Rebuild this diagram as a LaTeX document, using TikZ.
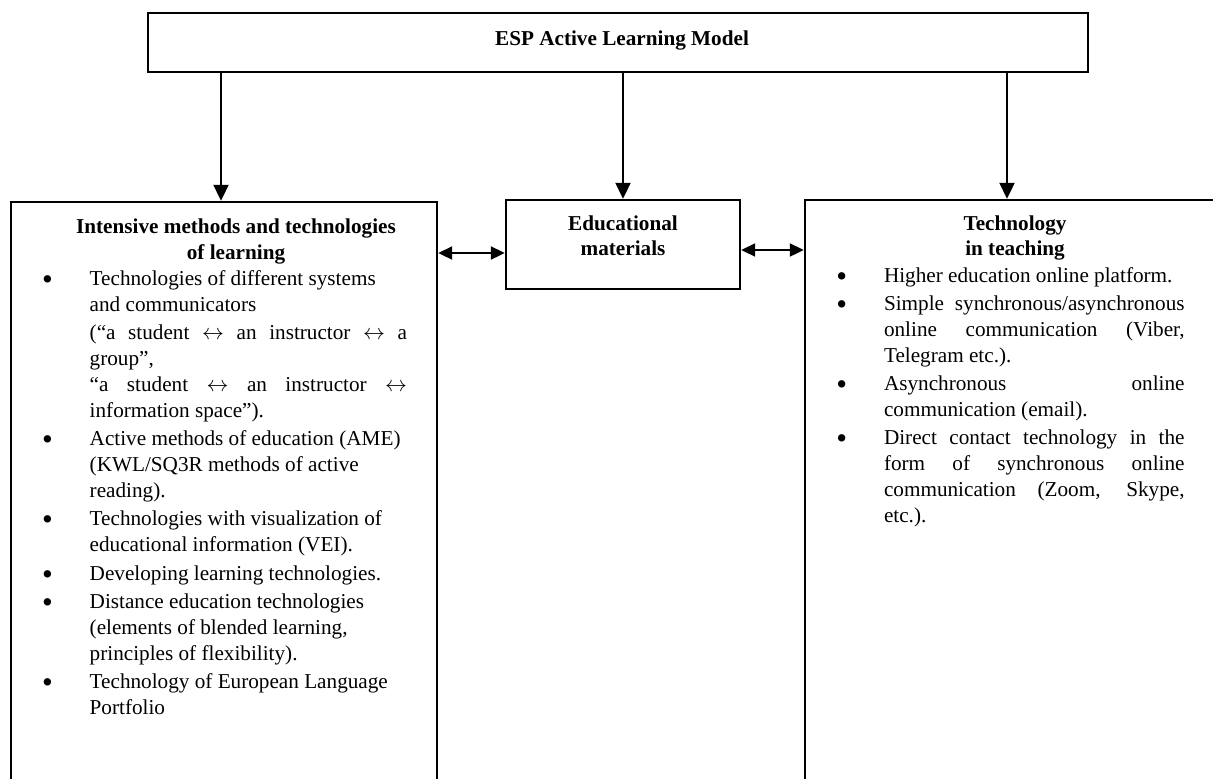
\documentclass[tikz,border=0pt]{standalone}
\usepackage{fontspec}
\usepackage{graphicx}
\setmainfont{Liberation Serif}
\usetikzlibrary{arrows.meta}
\newlength\lw \setlength\lw{158.7pt}
\newlength\rw \setlength\rw{150.3pt}
\newcommand\bul{\makebox[23.8pt][l]{\raisebox{-2.4pt}{\scalebox{1.45}{\textbullet}}}}
\newcommand\lra{$\leftrightarrow$}
\newcommand\Ll[1]{\makebox[\lw][l]{#1}}
\newcommand\Ls[1]{\makebox[\lw][s]{#1}}
\newcommand\Rl[1]{\makebox[\rw][l]{#1}}
\newcommand\Rs[1]{\makebox[\rw][s]{#1}}
\tikzset{
  box/.style={draw, line width=1.2pt, inner sep=0pt},
  txt/.style={inner sep=0pt, font=\fontsize{10.6}{13}\selectfont},
  ttl/.style={inner sep=0pt, align=center, font=\fontsize{10.6}{12.6}\selectfont\bfseries},
  varr/.style={line width=1pt, -{Triangle[length=8pt,width=7.5pt]}},
  harr/.style={line width=1pt, {Triangle[length=7pt,width=6.5pt]}-{Triangle[length=7pt,width=6.5pt]}}
}
\begin{document}
\begin{tikzpicture}[x=0.5pt,y=-0.5pt]
\useasboundingbox (0,0) rectangle (1213,778);
\clip (0,0) rectangle (1213,778);
% boxes
\node[box, minimum width=470pt, minimum height=29.5pt] (top) at (618,42.5) {};
\node[box, minimum width=213pt, minimum height=299pt] (lbox) at (224,501) {};
\node[box, minimum width=117pt, minimum height=44.5pt] (mbox) at (623,244.5) {};
\node[box, minimum width=212.5pt, minimum height=300pt] (rbox) at (1017.5,500) {};
% titles (base anchor = baseline of the last line)
\node[ttl, anchor=base] (toptitle) at (622,45) {ESP Active Learning Model};
\node[ttl, anchor=base] (ltitle) at (236,259) {Intensive methods and technologies\\of learning};
\node[ttl, anchor=base] (mtitle) at (623,255.7) {Educational\\materials};
\node[ttl, anchor=base] (rtitle) at (1015,255.7) {Technology\\in teaching};
% left list
\node[txt, anchor=base west] (llist) at (41.7,285) {%
\begin{tabular}[t]{@{}l@{}l@{}}
\bul & \Ll{Technologies of different systems}\\
     & \Ll{and communicators}\\[1pt]
     & \Ls{(“a student \lra{} an instructor \lra{} a}\\
     & \Ll{group”,}\\
     & \Ls{“a student \lra{} an instructor \lra}\\
     & \Ll{information space”).}\\[1pt]
\bul & \Ll{Active methods of education (AME)}\\
     & \Ll{(KWL/SQ3R methods of active}\\
     & \Ll{reading).}\\[1pt]
\bul & \Ll{Technologies with visualization of}\\
     & \Ll{educational information (VEI).}\\[1.5pt]
\bul & \Ll{Developing learning technologies.}\\[1pt]
\bul & \Ll{Distance education technologies}\\
     & \Ll{(elements of blended learning,}\\
     & \Ll{principles of flexibility).}\\[1pt]
\bul & \Ll{Technology of European Language}\\
     & \Ll{Portfolio}
\end{tabular}};
% right list
\node[txt, anchor=base west] (rlist) at (836,282) {%
\begin{tabular}[t]{@{}l@{}l@{}}
\bul & \Rl{Higher education online platform.}\\[1pt]
\bul & \Rs{Simple synchronous/asynchronous}\\
     & \Rs{online communication (Viber,}\\
     & \Rl{Telegram etc.).}\\[1pt]
\bul & \Rs{Asynchronous online}\\
     & \Rl{communication (email).}\\[1pt]
\bul & \Rs{Direct contact technology in the}\\
     & \Rs{form of synchronous online}\\
     & \Rs{communication (Zoom, Skype,}\\
     & \Rl{etc.).}
\end{tabular}};
% helper coordinates
\coordinate (xl) at (221,0);
\coordinate (xr) at (1007,0);
\coordinate (yl) at (0,253);
\coordinate (yr) at (0,250);
% connectors
\draw[varr] (top.south -| xl) -- (lbox.north -| xl);
\draw[varr] (top.south -| mbox.north) -- (mbox.north);
\draw[varr] (top.south -| xr) -- (rbox.north -| xr);
\draw[harr] (lbox.east |- yl) -- (mbox.west |- yl);
\draw[harr] (mbox.east |- yr) -- (rbox.west |- yr);
\end{tikzpicture}
\end{document}
